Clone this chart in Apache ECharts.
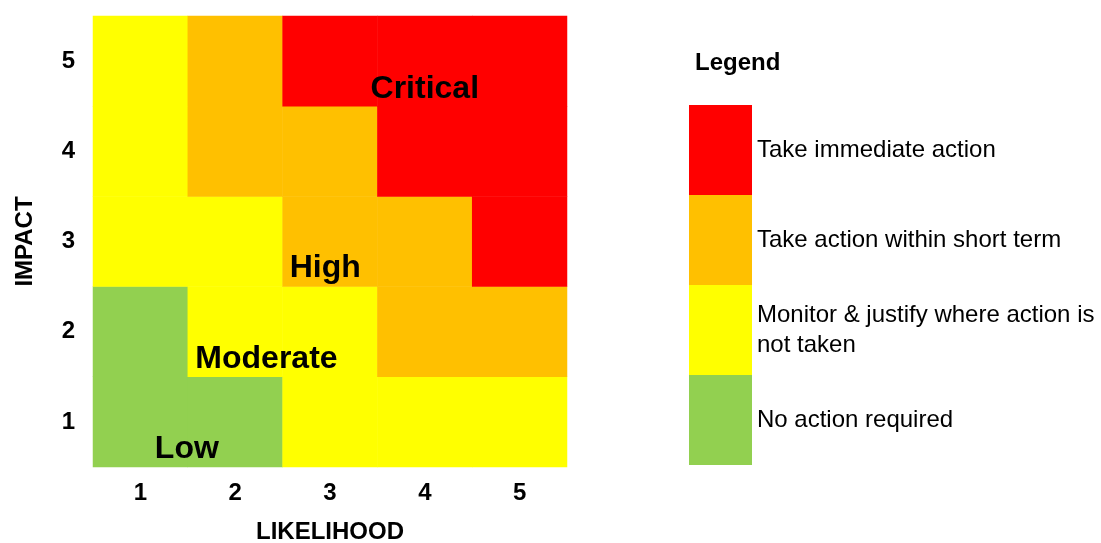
<!DOCTYPE html>
<html>
<head>
<meta charset="utf-8">
<script src="https://cdn.jsdelivr.net/npm/echarts@6/dist/echarts.min.js"></script>
<style>
  html, body { margin: 0; padding: 0; background: #fff; }
  #chart { width: 1101px; height: 543px; }
</style>
</head>
<body>
<div id="chart"></div>
<script>
var likelihood = ['1', '2', '3', '4', '5'];
var impact = ['1', '2', '3', '4', '5'];
// risk level per cell, rows = impact 1..5, columns = likelihood 1..5
var levelRows = [
  [1, 1, 2, 2, 2],
  [1, 2, 2, 3, 3],
  [2, 2, 3, 3, 4],
  [2, 3, 3, 4, 4],
  [2, 3, 4, 4, 4]
];
var levelColors = ['#92D050', '#FFFF00', '#FFC000', '#FF0000'];
var levelText = [
  'No action required',
  'Monitor & justify where action is\nnot taken',
  'Take action within short term',
  'Take immediate action'
];
// zone names placed in likelihood/impact space
var zoneLabels = [
  [4.0, 4.685, 'Critical'],
  [2.95, 2.70, 'High'],
  [2.33, 1.70, 'Moderate'],
  [1.49, 0.70, 'Low']
];

var font = 'Arial, "Liberation Sans", sans-serif';
var cells = [];
levelRows.forEach(function(row, y) {
  row.forEach(function(v, x) {
    cells.push([x, y, v]);
  });
});
var pieces = levelColors.map(function(c, i) {
  return { value: i + 1, label: levelText[i], color: c };
});

var chart = echarts.init(document.getElementById('chart'));
chart.setOption({
  animation: false,
  textStyle: { fontFamily: font },
  grid: { left: 93, top: 16, width: 474, height: 451, outerBoundsMode: 'none', containLabel: false },
  xAxis: [{
    type: 'category',
    data: likelihood,
    name: 'LIKELIHOOD',
    nameLocation: 'middle',
    nameGap: 53,
    nameTextStyle: { fontSize: 24, fontWeight: 'bold', color: '#000', fontFamily: font },
    axisLine: { show: false },
    axisTick: { show: false },
    splitLine: { show: false },
    axisLabel: { fontSize: 24, fontWeight: 'bold', color: '#000', margin: 14, fontFamily: font }
  }, {
    type: 'value', min: 0.5, max: 5.5, show: false
  }],
  yAxis: [{
    type: 'category',
    data: impact,
    name: 'IMPACT',
    nameLocation: 'middle',
    nameGap: 56,
    nameRotate: 90,
    nameTextStyle: { fontSize: 24, fontWeight: 'bold', color: '#000', fontFamily: font },
    axisLine: { show: false },
    axisTick: { show: false },
    splitLine: { show: false },
    axisLabel: { fontSize: 24, fontWeight: 'bold', color: '#000', margin: 18, fontFamily: font }
  }, {
    type: 'value', min: 0.5, max: 5.5, show: false
  }],
  visualMap: {
    type: 'piecewise',
    seriesIndex: 0,
    pieces: pieces,
    orient: 'vertical',
    left: 689,
    top: 105,
    padding: 0,
    itemWidth: 63,
    itemHeight: 90,
    itemGap: 0,
    itemSymbol: 'rect',
    align: 'left',
    textGap: 5,
    textStyle: { fontSize: 24, color: '#000', fontFamily: font, lineHeight: 30 }
  },
  graphic: [{
    type: 'text',
    left: 695,
    top: 51,
    style: { text: 'Legend', fontSize: 24, fontWeight: 'bold', fill: '#000', fontFamily: font }
  }],
  series: [{
    type: 'heatmap',
    data: cells,
    itemStyle: { borderWidth: 0 },
    emphasis: { disabled: true }
  }, {
    type: 'scatter',
    xAxisIndex: 1,
    yAxisIndex: 1,
    symbolSize: 0,
    data: zoneLabels,
    itemStyle: { opacity: 1 },
    label: {
      show: true,
      position: 'inside',
      formatter: function(p) { return p.value[2]; },
      fontSize: 32,
      fontWeight: 'bold',
      color: '#000',
      fontFamily: font
    },
    silent: true,
    z: 5
  }]
});
</script>
</body>
</html>
